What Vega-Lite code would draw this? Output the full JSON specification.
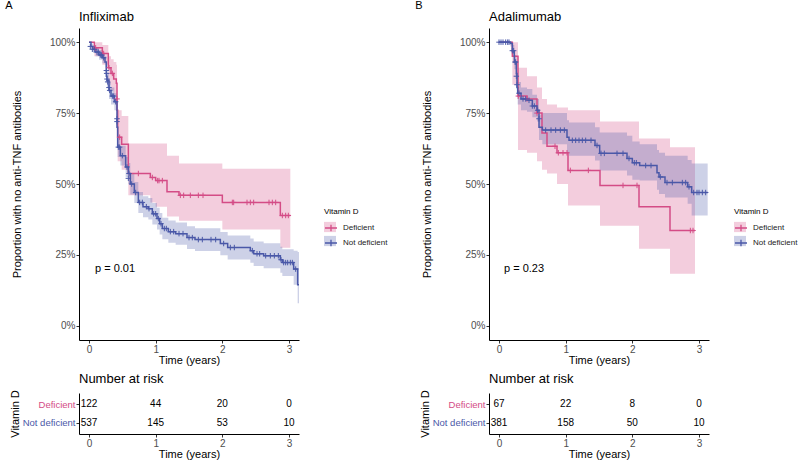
{
  "$schema": "https://vega.github.io/schema/vega-lite/v6.json",
  "padding": {"left": 5, "top": 0, "right": 1, "bottom": 1},
  "config": {
    "font": "Liberation Sans",
    "view": {"stroke": null},
    "axis": {"grid": false, "domainColor": "#000", "tickColor": "#333", "labelColor": "#4D4D4D", "labelFontSize": 10, "titleFontSize": 11, "titleFontWeight": "normal", "titleColor": "#000", "tickSize": 3, "labelPadding": 1, "titlePadding": 0},
    "legend": {"titleFontSize": 8, "labelFontSize": 8, "titleFontWeight": "normal", "titleColor": "#000", "labelColor": "#222", "rowPadding": 2, "titlePadding": 5, "labelOffset": 5},
    "title": {"fontWeight": "normal", "color": "#000"}
  },
  "datasets": {
    "kmA": [
      {"g": "Deficient", "t": 0, "s": 1, "lo": 1, "hi": 1},
      {"g": "Deficient", "t": 0.08, "s": 0.98, "lo": 0.95, "hi": 1},
      {"g": "Deficient", "t": 0.2, "s": 0.96, "lo": 0.92, "hi": 0.99},
      {"g": "Deficient", "t": 0.29, "s": 0.91, "lo": 0.85, "hi": 0.95},
      {"g": "Deficient", "t": 0.33, "s": 0.89, "lo": 0.83, "hi": 0.94},
      {"g": "Deficient", "t": 0.37, "s": 0.87, "lo": 0.81, "hi": 0.93},
      {"g": "Deficient", "t": 0.41, "s": 0.855, "lo": 0.79, "hi": 0.92},
      {"g": "Deficient", "t": 0.42, "s": 0.76, "lo": 0.68, "hi": 0.83},
      {"g": "Deficient", "t": 0.43, "s": 0.665, "lo": 0.58, "hi": 0.76},
      {"g": "Deficient", "t": 0.49, "s": 0.64, "lo": 0.55, "hi": 0.74},
      {"g": "Deficient", "t": 0.59, "s": 0.537, "lo": 0.46, "hi": 0.643},
      {"g": "Deficient", "t": 0.92, "s": 0.523, "lo": 0.435, "hi": 0.643},
      {"g": "Deficient", "t": 1.0, "s": 0.512, "lo": 0.42, "hi": 0.643},
      {"g": "Deficient", "t": 1.17, "s": 0.473, "lo": 0.385, "hi": 0.6},
      {"g": "Deficient", "t": 1.35, "s": 0.46, "lo": 0.37, "hi": 0.572},
      {"g": "Deficient", "t": 2.0, "s": 0.435, "lo": 0.34, "hi": 0.554},
      {"g": "Deficient", "t": 2.87, "s": 0.389, "lo": 0.275, "hi": 0.554},
      {"g": "Deficient", "t": 3.02, "s": 0.389, "lo": 0.275, "hi": 0.554},
      {"g": "Not deficient", "t": 0, "s": 1, "lo": 1, "hi": 1},
      {"g": "Not deficient", "t": 0.03, "s": 0.985, "lo": 0.975, "hi": 0.995},
      {"g": "Not deficient", "t": 0.06, "s": 0.975, "lo": 0.962, "hi": 0.988},
      {"g": "Not deficient", "t": 0.1, "s": 0.965, "lo": 0.95, "hi": 0.98},
      {"g": "Not deficient", "t": 0.15, "s": 0.955, "lo": 0.938, "hi": 0.972},
      {"g": "Not deficient", "t": 0.2, "s": 0.945, "lo": 0.926, "hi": 0.964},
      {"g": "Not deficient", "t": 0.24, "s": 0.93, "lo": 0.91, "hi": 0.95},
      {"g": "Not deficient", "t": 0.26, "s": 0.88, "lo": 0.855, "hi": 0.905},
      {"g": "Not deficient", "t": 0.27, "s": 0.866, "lo": 0.84, "hi": 0.892},
      {"g": "Not deficient", "t": 0.3, "s": 0.83, "lo": 0.8, "hi": 0.86},
      {"g": "Not deficient", "t": 0.33, "s": 0.81, "lo": 0.78, "hi": 0.84},
      {"g": "Not deficient", "t": 0.38, "s": 0.79, "lo": 0.76, "hi": 0.82},
      {"g": "Not deficient", "t": 0.42, "s": 0.7, "lo": 0.665, "hi": 0.735},
      {"g": "Not deficient", "t": 0.43, "s": 0.63, "lo": 0.595, "hi": 0.665},
      {"g": "Not deficient", "t": 0.47, "s": 0.6, "lo": 0.565, "hi": 0.635},
      {"g": "Not deficient", "t": 0.55, "s": 0.56, "lo": 0.525, "hi": 0.595},
      {"g": "Not deficient", "t": 0.59, "s": 0.537, "lo": 0.5, "hi": 0.574},
      {"g": "Not deficient", "t": 0.62, "s": 0.5, "lo": 0.463, "hi": 0.537},
      {"g": "Not deficient", "t": 0.68, "s": 0.47, "lo": 0.433, "hi": 0.507},
      {"g": "Not deficient", "t": 0.74, "s": 0.435, "lo": 0.398, "hi": 0.472},
      {"g": "Not deficient", "t": 0.81, "s": 0.42, "lo": 0.383, "hi": 0.457},
      {"g": "Not deficient", "t": 0.89, "s": 0.413, "lo": 0.375, "hi": 0.451},
      {"g": "Not deficient", "t": 0.95, "s": 0.395, "lo": 0.357, "hi": 0.433},
      {"g": "Not deficient", "t": 1.02, "s": 0.378, "lo": 0.34, "hi": 0.416},
      {"g": "Not deficient", "t": 1.06, "s": 0.36, "lo": 0.322, "hi": 0.398},
      {"g": "Not deficient", "t": 1.1, "s": 0.343, "lo": 0.305, "hi": 0.381},
      {"g": "Not deficient", "t": 1.19, "s": 0.332, "lo": 0.293, "hi": 0.371},
      {"g": "Not deficient", "t": 1.3, "s": 0.325, "lo": 0.286, "hi": 0.364},
      {"g": "Not deficient", "t": 1.47, "s": 0.311, "lo": 0.271, "hi": 0.351},
      {"g": "Not deficient", "t": 1.59, "s": 0.304, "lo": 0.264, "hi": 0.344},
      {"g": "Not deficient", "t": 1.97, "s": 0.29, "lo": 0.249, "hi": 0.331},
      {"g": "Not deficient", "t": 2.08, "s": 0.276, "lo": 0.234, "hi": 0.318},
      {"g": "Not deficient", "t": 2.42, "s": 0.265, "lo": 0.222, "hi": 0.308},
      {"g": "Not deficient", "t": 2.47, "s": 0.254, "lo": 0.211, "hi": 0.297},
      {"g": "Not deficient", "t": 2.62, "s": 0.247, "lo": 0.203, "hi": 0.291},
      {"g": "Not deficient", "t": 2.87, "s": 0.233, "lo": 0.187, "hi": 0.279},
      {"g": "Not deficient", "t": 2.9, "s": 0.223, "lo": 0.176, "hi": 0.27},
      {"g": "Not deficient", "t": 3.07, "s": 0.2, "lo": 0.145, "hi": 0.265},
      {"g": "Not deficient", "t": 3.13, "s": 0.145, "lo": 0.08, "hi": 0.26},
      {"g": "Not deficient", "t": 3.15, "s": 0.145, "lo": 0.08, "hi": 0.26}
    ],
    "cenA": [
      {"g": "Deficient", "t": 0.1, "s": 0.98}, {"g": "Deficient", "t": 0.22, "s": 0.96}, {"g": "Deficient", "t": 0.3, "s": 0.91},
      {"g": "Deficient", "t": 0.35, "s": 0.89}, {"g": "Deficient", "t": 0.42, "s": 0.8}, {"g": "Deficient", "t": 0.46, "s": 0.665},
      {"g": "Deficient", "t": 0.74, "s": 0.537}, {"g": "Deficient", "t": 0.95, "s": 0.523}, {"g": "Deficient", "t": 1.03, "s": 0.512},
      {"g": "Deficient", "t": 1.05, "s": 0.512}, {"g": "Deficient", "t": 1.1, "s": 0.512}, {"g": "Deficient", "t": 1.37, "s": 0.46},
      {"g": "Deficient", "t": 1.42, "s": 0.46}, {"g": "Deficient", "t": 1.52, "s": 0.46}, {"g": "Deficient", "t": 1.64, "s": 0.46},
      {"g": "Deficient", "t": 1.71, "s": 0.46}, {"g": "Deficient", "t": 2.15, "s": 0.435}, {"g": "Deficient", "t": 2.17, "s": 0.435},
      {"g": "Deficient", "t": 2.37, "s": 0.435}, {"g": "Deficient", "t": 2.42, "s": 0.435}, {"g": "Deficient", "t": 2.47, "s": 0.435},
      {"g": "Deficient", "t": 2.7, "s": 0.435}, {"g": "Deficient", "t": 2.75, "s": 0.435}, {"g": "Deficient", "t": 2.8, "s": 0.435},
      {"g": "Deficient", "t": 2.9, "s": 0.389}, {"g": "Deficient", "t": 2.95, "s": 0.389}, {"g": "Deficient", "t": 2.99, "s": 0.389},
      {"g": "Not deficient", "t": 0.02, "s": 0.985}, {"g": "Not deficient", "t": 0.05, "s": 0.975}, {"g": "Not deficient", "t": 0.08, "s": 0.975},
      {"g": "Not deficient", "t": 0.12, "s": 0.965}, {"g": "Not deficient", "t": 0.14, "s": 0.965}, {"g": "Not deficient", "t": 0.17, "s": 0.955},
      {"g": "Not deficient", "t": 0.19, "s": 0.955}, {"g": "Not deficient", "t": 0.22, "s": 0.945}, {"g": "Not deficient", "t": 0.26, "s": 0.9},
      {"g": "Not deficient", "t": 0.265, "s": 0.89}, {"g": "Not deficient", "t": 0.27, "s": 0.87}, {"g": "Not deficient", "t": 0.28, "s": 0.86},
      {"g": "Not deficient", "t": 0.3, "s": 0.84}, {"g": "Not deficient", "t": 0.31, "s": 0.83}, {"g": "Not deficient", "t": 0.35, "s": 0.81},
      {"g": "Not deficient", "t": 0.37, "s": 0.81}, {"g": "Not deficient", "t": 0.4, "s": 0.79}, {"g": "Not deficient", "t": 0.42, "s": 0.73},
      {"g": "Not deficient", "t": 0.42, "s": 0.72}, {"g": "Not deficient", "t": 0.44, "s": 0.63}, {"g": "Not deficient", "t": 0.46, "s": 0.63},
      {"g": "Not deficient", "t": 0.5, "s": 0.6}, {"g": "Not deficient", "t": 0.57, "s": 0.56}, {"g": "Not deficient", "t": 0.59, "s": 0.52},
      {"g": "Not deficient", "t": 0.6, "s": 0.537}, {"g": "Not deficient", "t": 0.64, "s": 0.5}, {"g": "Not deficient", "t": 0.7, "s": 0.47},
      {"g": "Not deficient", "t": 0.76, "s": 0.435}, {"g": "Not deficient", "t": 0.8, "s": 0.435}, {"g": "Not deficient", "t": 0.86, "s": 0.42},
      {"g": "Not deficient", "t": 0.9, "s": 0.413}, {"g": "Not deficient", "t": 0.97, "s": 0.395}, {"g": "Not deficient", "t": 1.0, "s": 0.395},
      {"g": "Not deficient", "t": 1.04, "s": 0.378}, {"g": "Not deficient", "t": 1.08, "s": 0.36}, {"g": "Not deficient", "t": 1.13, "s": 0.343},
      {"g": "Not deficient", "t": 1.16, "s": 0.343}, {"g": "Not deficient", "t": 1.22, "s": 0.332}, {"g": "Not deficient", "t": 1.27, "s": 0.332},
      {"g": "Not deficient", "t": 1.35, "s": 0.325}, {"g": "Not deficient", "t": 1.41, "s": 0.325}, {"g": "Not deficient", "t": 1.5, "s": 0.311},
      {"g": "Not deficient", "t": 1.55, "s": 0.311}, {"g": "Not deficient", "t": 1.64, "s": 0.304}, {"g": "Not deficient", "t": 1.7, "s": 0.304},
      {"g": "Not deficient", "t": 1.83, "s": 0.304}, {"g": "Not deficient", "t": 1.9, "s": 0.304}, {"g": "Not deficient", "t": 2.02, "s": 0.29},
      {"g": "Not deficient", "t": 2.12, "s": 0.276}, {"g": "Not deficient", "t": 2.18, "s": 0.276}, {"g": "Not deficient", "t": 2.45, "s": 0.265},
      {"g": "Not deficient", "t": 2.52, "s": 0.254}, {"g": "Not deficient", "t": 2.56, "s": 0.254}, {"g": "Not deficient", "t": 2.65, "s": 0.247},
      {"g": "Not deficient", "t": 2.72, "s": 0.247}, {"g": "Not deficient", "t": 2.78, "s": 0.247}, {"g": "Not deficient", "t": 2.84, "s": 0.247},
      {"g": "Not deficient", "t": 2.88, "s": 0.233}, {"g": "Not deficient", "t": 2.92, "s": 0.223}, {"g": "Not deficient", "t": 2.95, "s": 0.223},
      {"g": "Not deficient", "t": 2.98, "s": 0.223}, {"g": "Not deficient", "t": 3.02, "s": 0.223}, {"g": "Not deficient", "t": 3.05, "s": 0.223},
      {"g": "Not deficient", "t": 3.1, "s": 0.2}
    ],
    "kmB": [
      {"g": "Deficient", "t": 0, "s": 1, "lo": 1, "hi": 1},
      {"g": "Deficient", "t": 0.2, "s": 0.95, "lo": 0.85, "hi": 1},
      {"g": "Deficient", "t": 0.285, "s": 0.81, "lo": 0.62, "hi": 0.91},
      {"g": "Deficient", "t": 0.42, "s": 0.8, "lo": 0.61, "hi": 0.88},
      {"g": "Deficient", "t": 0.57, "s": 0.75, "lo": 0.58, "hi": 0.84},
      {"g": "Deficient", "t": 0.645, "s": 0.68, "lo": 0.55, "hi": 0.8},
      {"g": "Deficient", "t": 0.72, "s": 0.633, "lo": 0.537, "hi": 0.78},
      {"g": "Deficient", "t": 0.87, "s": 0.61, "lo": 0.5, "hi": 0.77},
      {"g": "Deficient", "t": 1.035, "s": 0.548, "lo": 0.424, "hi": 0.76},
      {"g": "Deficient", "t": 1.515, "s": 0.495, "lo": 0.353, "hi": 0.72},
      {"g": "Deficient", "t": 2.1, "s": 0.42, "lo": 0.272, "hi": 0.66},
      {"g": "Deficient", "t": 2.565, "s": 0.336, "lo": 0.184, "hi": 0.63},
      {"g": "Deficient", "t": 2.94, "s": 0.336, "lo": 0.184, "hi": 0.63},
      {"g": "Not deficient", "t": 0, "s": 1, "lo": 1, "hi": 1},
      {"g": "Not deficient", "t": 0.17, "s": 0.995, "lo": 0.985, "hi": 1},
      {"g": "Not deficient", "t": 0.2, "s": 0.97, "lo": 0.95, "hi": 0.99},
      {"g": "Not deficient", "t": 0.23, "s": 0.93, "lo": 0.905, "hi": 0.955},
      {"g": "Not deficient", "t": 0.26, "s": 0.89, "lo": 0.86, "hi": 0.92},
      {"g": "Not deficient", "t": 0.27, "s": 0.84, "lo": 0.8, "hi": 0.88},
      {"g": "Not deficient", "t": 0.28, "s": 0.82, "lo": 0.78, "hi": 0.86},
      {"g": "Not deficient", "t": 0.33, "s": 0.8, "lo": 0.76, "hi": 0.84},
      {"g": "Not deficient", "t": 0.42, "s": 0.795, "lo": 0.755, "hi": 0.835},
      {"g": "Not deficient", "t": 0.5, "s": 0.775, "lo": 0.735, "hi": 0.815},
      {"g": "Not deficient", "t": 0.57, "s": 0.76, "lo": 0.72, "hi": 0.8},
      {"g": "Not deficient", "t": 0.6, "s": 0.7, "lo": 0.655, "hi": 0.745},
      {"g": "Not deficient", "t": 0.65, "s": 0.69, "lo": 0.64, "hi": 0.75},
      {"g": "Not deficient", "t": 1.02, "s": 0.665, "lo": 0.61, "hi": 0.725},
      {"g": "Not deficient", "t": 1.05, "s": 0.654, "lo": 0.6, "hi": 0.717},
      {"g": "Not deficient", "t": 1.44, "s": 0.636, "lo": 0.583, "hi": 0.7},
      {"g": "Not deficient", "t": 1.51, "s": 0.608, "lo": 0.548, "hi": 0.682},
      {"g": "Not deficient", "t": 1.92, "s": 0.59, "lo": 0.53, "hi": 0.67},
      {"g": "Not deficient", "t": 2.0, "s": 0.575, "lo": 0.515, "hi": 0.65},
      {"g": "Not deficient", "t": 2.11, "s": 0.565, "lo": 0.512, "hi": 0.64},
      {"g": "Not deficient", "t": 2.37, "s": 0.54, "lo": 0.48, "hi": 0.62},
      {"g": "Not deficient", "t": 2.4, "s": 0.525, "lo": 0.465, "hi": 0.61},
      {"g": "Not deficient", "t": 2.49, "s": 0.505, "lo": 0.452, "hi": 0.6},
      {"g": "Not deficient", "t": 2.83, "s": 0.49, "lo": 0.43, "hi": 0.585},
      {"g": "Not deficient", "t": 2.89, "s": 0.47, "lo": 0.389, "hi": 0.572},
      {"g": "Not deficient", "t": 3.13, "s": 0.47, "lo": 0.389, "hi": 0.572}
    ],
    "cenB": [
      {"g": "Deficient", "t": 0.29, "s": 0.81}, {"g": "Deficient", "t": 0.42, "s": 0.8}, {"g": "Deficient", "t": 0.57, "s": 0.75},
      {"g": "Deficient", "t": 0.84, "s": 0.633}, {"g": "Deficient", "t": 0.89, "s": 0.61}, {"g": "Deficient", "t": 0.96, "s": 0.61},
      {"g": "Deficient", "t": 1.02, "s": 0.61}, {"g": "Deficient", "t": 1.07, "s": 0.548}, {"g": "Deficient", "t": 1.34, "s": 0.548},
      {"g": "Deficient", "t": 1.86, "s": 0.495}, {"g": "Deficient", "t": 2.07, "s": 0.495}, {"g": "Deficient", "t": 2.87, "s": 0.336},
      {"g": "Deficient", "t": 2.91, "s": 0.336},
      {"g": "Not deficient", "t": 0.0, "s": 1}, {"g": "Not deficient", "t": 0.03, "s": 1}, {"g": "Not deficient", "t": 0.06, "s": 1},
      {"g": "Not deficient", "t": 0.1, "s": 1}, {"g": "Not deficient", "t": 0.13, "s": 1}, {"g": "Not deficient", "t": 0.15, "s": 1},
      {"g": "Not deficient", "t": 0.2, "s": 0.97}, {"g": "Not deficient", "t": 0.22, "s": 0.97}, {"g": "Not deficient", "t": 0.24, "s": 0.93},
      {"g": "Not deficient", "t": 0.25, "s": 0.93}, {"g": "Not deficient", "t": 0.26, "s": 0.88}, {"g": "Not deficient", "t": 0.27, "s": 0.85},
      {"g": "Not deficient", "t": 0.3, "s": 0.82}, {"g": "Not deficient", "t": 0.36, "s": 0.8}, {"g": "Not deficient", "t": 0.4, "s": 0.8},
      {"g": "Not deficient", "t": 0.45, "s": 0.795}, {"g": "Not deficient", "t": 0.5, "s": 0.775}, {"g": "Not deficient", "t": 0.53, "s": 0.775},
      {"g": "Not deficient", "t": 0.58, "s": 0.76}, {"g": "Not deficient", "t": 0.6, "s": 0.73}, {"g": "Not deficient", "t": 0.7, "s": 0.69},
      {"g": "Not deficient", "t": 0.78, "s": 0.69}, {"g": "Not deficient", "t": 0.85, "s": 0.69}, {"g": "Not deficient", "t": 0.92, "s": 0.69},
      {"g": "Not deficient", "t": 0.98, "s": 0.69}, {"g": "Not deficient", "t": 1.1, "s": 0.654}, {"g": "Not deficient", "t": 1.15, "s": 0.654},
      {"g": "Not deficient", "t": 1.2, "s": 0.654}, {"g": "Not deficient", "t": 1.25, "s": 0.654}, {"g": "Not deficient", "t": 1.3, "s": 0.654},
      {"g": "Not deficient", "t": 1.38, "s": 0.654}, {"g": "Not deficient", "t": 1.47, "s": 0.636}, {"g": "Not deficient", "t": 1.53, "s": 0.608},
      {"g": "Not deficient", "t": 1.58, "s": 0.608}, {"g": "Not deficient", "t": 1.77, "s": 0.608}, {"g": "Not deficient", "t": 1.86, "s": 0.608},
      {"g": "Not deficient", "t": 1.95, "s": 0.59}, {"g": "Not deficient", "t": 2.03, "s": 0.575}, {"g": "Not deficient", "t": 2.06, "s": 0.575},
      {"g": "Not deficient", "t": 2.2, "s": 0.565}, {"g": "Not deficient", "t": 2.28, "s": 0.565}, {"g": "Not deficient", "t": 2.42, "s": 0.525},
      {"g": "Not deficient", "t": 2.52, "s": 0.505}, {"g": "Not deficient", "t": 2.6, "s": 0.505}, {"g": "Not deficient", "t": 2.75, "s": 0.505},
      {"g": "Not deficient", "t": 2.8, "s": 0.505}, {"g": "Not deficient", "t": 2.85, "s": 0.49}, {"g": "Not deficient", "t": 2.92, "s": 0.47},
      {"g": "Not deficient", "t": 2.97, "s": 0.47}, {"g": "Not deficient", "t": 3.0, "s": 0.47}, {"g": "Not deficient", "t": 3.05, "s": 0.47},
      {"g": "Not deficient", "t": 3.1, "s": 0.47}
    ],
    "riskA": [
      {"g": "Deficient", "t": 0, "n": 122}, {"g": "Deficient", "t": 1, "n": 44}, {"g": "Deficient", "t": 2, "n": 20}, {"g": "Deficient", "t": 3, "n": 0},
      {"g": "Not deficient", "t": 0, "n": 537}, {"g": "Not deficient", "t": 1, "n": 145}, {"g": "Not deficient", "t": 2, "n": 53}, {"g": "Not deficient", "t": 3, "n": 10}
    ],
    "riskB": [
      {"g": "Deficient", "t": 0, "n": 67}, {"g": "Deficient", "t": 1, "n": 22}, {"g": "Deficient", "t": 2, "n": 8}, {"g": "Deficient", "t": 3, "n": 0},
      {"g": "Not deficient", "t": 0, "n": 381}, {"g": "Not deficient", "t": 1, "n": 158}, {"g": "Not deficient", "t": 2, "n": 50}, {"g": "Not deficient", "t": 3, "n": 10}
    ],
    "pA": [{"t": 0.09, "s": 0.2, "label": "p = 0.01"}],
    "pB": [{"t": 0.075, "s": 0.2, "label": "p = 0.23"}]
  },
  "bounds": "flush",
  "spacing": 410,
  "resolve": {"scale": {"fill": "independent", "stroke": "independent"}, "legend": {"fill": "independent", "stroke": "independent"}},
  "hconcat": [
    {
      "title": {"text": "A", "anchor": "start", "frame": "bounds", "fontSize": 11, "offset": 0, "dx": -4},
      "bounds": "flush",
      "spacing": 53,
      "resolve": {"scale": {"fill": "independent", "stroke": "independent"}, "legend": {"fill": "independent", "stroke": "independent"}},
      "vconcat": [
        {
          "width": 220, "height": 312,
          "title": {"text": "Infliximab", "anchor": "start", "frame": "group", "fontSize": 13, "offset": 4},
          "layer": [
            {
              "data": {"name": "kmA"},
              "transform": [{"filter": "datum.lo != null"}],
              "mark": {"type": "area", "interpolate": "step-after", "opacity": 0.28},
              "encoding": {
                "x": {"field": "t", "type": "quantitative", "scale": {"domain": [-0.15, 3.15], "nice": false, "zero": false}, "axis": {"values": [0, 1, 2, 3], "format": "d", "title": "Time (years)"}},
                "y": {"field": "lo", "type": "quantitative", "scale": {"domain": [-0.05, 1.05], "nice": false, "zero": false}, "axis": {"values": [0, 0.25, 0.5, 0.75, 1], "format": ".0%", "title": "Proportion with no anti-TNF antibodies", "titlePadding": 27}},
                "y2": {"field": "hi"},
                "fill": {"field": "g", "type": "nominal", "scale": {"range": ["#D44C86", "#4A58A8"]}, "legend": {"orient": "none", "legendX": 245, "legendY": 180, "title": " ", "labelExpr": "''", "symbolType": "M-1,-0.85H1V0.85H-1Z", "symbolSize": 144, "symbolStrokeWidth": 0, "symbolOpacity": 0.28}}
              }
            },
            {
              "data": {"name": "kmA"},
              "mark": {"type": "line", "interpolate": "step-after", "strokeWidth": 1.5},
              "encoding": {
                "x": {"field": "t", "type": "quantitative"},
                "y": {"field": "s", "type": "quantitative"},
                "stroke": {"field": "g", "type": "nominal", "scale": {"range": ["#D44C86", "#4A58A8"]}, "legend": {"orient": "none", "legendX": 245, "legendY": 180, "title": "Vitamin D", "symbolType": "M-1,0H1M0,-0.55V0.55", "symbolSize": 144, "symbolStrokeWidth": 1.3}}
              }
            },
            {
              "data": {"name": "cenA"},
              "mark": {"type": "point", "shape": "M-1,0H1M0,-1V1", "size": 30, "strokeWidth": 1, "filled": false, "opacity": 1},
              "encoding": {
                "x": {"field": "t", "type": "quantitative"},
                "y": {"field": "s", "type": "quantitative"},
                "stroke": {"field": "g", "type": "nominal"}
              }
            },
            {
              "data": {"name": "pA"},
              "mark": {"type": "text", "align": "left", "baseline": "middle", "fontSize": 11, "color": "#000"},
              "encoding": {
                "x": {"field": "t", "type": "quantitative"},
                "y": {"field": "s", "type": "quantitative"},
                "text": {"field": "label"}
              }
            }
          ]
        },
        {
          "width": 220, "height": 41,
          "data": {"name": "riskA"},
          "title": {"text": "Number at risk", "anchor": "start", "frame": "group", "fontSize": 13, "offset": 4},
          "mark": {"type": "text", "fontSize": 10, "color": "#000"},
          "encoding": {
            "x": {"field": "t", "type": "quantitative", "scale": {"domain": [-0.15, 3.15], "nice": false, "zero": false}, "axis": {"values": [0, 1, 2, 3], "format": "d", "title": "Time (years)"}},
            "y": {"field": "g", "type": "nominal", "scale": {"type": "point", "padding": 0.58, "domain": ["Deficient", "Not deficient"]}, "axis": {"title": "Vitamin D", "titlePadding": 2, "labelFontSize": 9.5, "labelColor": {"condition": {"test": "datum.value === 'Deficient'", "value": "#D44C86"}, "value": "#4A58A8"}}},
            "text": {"field": "n", "type": "quantitative"}
          }
        }
      ]
    },
    {
      "title": {"text": "B", "anchor": "start", "frame": "bounds", "fontSize": 11, "offset": 0, "dx": -4},
      "bounds": "flush",
      "spacing": 53,
      "resolve": {"scale": {"fill": "independent", "stroke": "independent"}, "legend": {"fill": "independent", "stroke": "independent"}},
      "vconcat": [
        {
          "width": 220, "height": 312,
          "title": {"text": "Adalimumab", "anchor": "start", "frame": "group", "fontSize": 13, "offset": 4},
          "layer": [
            {
              "data": {"name": "kmB"},
              "transform": [{"filter": "datum.lo != null"}],
              "mark": {"type": "area", "interpolate": "step-after", "opacity": 0.28},
              "encoding": {
                "x": {"field": "t", "type": "quantitative", "scale": {"domain": [-0.15, 3.15], "nice": false, "zero": false}, "axis": {"values": [0, 1, 2, 3], "format": "d", "title": "Time (years)"}},
                "y": {"field": "lo", "type": "quantitative", "scale": {"domain": [-0.05, 1.05], "nice": false, "zero": false}, "axis": {"values": [0, 0.25, 0.5, 0.75, 1], "format": ".0%", "title": "Proportion with no anti-TNF antibodies", "titlePadding": 27}},
                "y2": {"field": "hi"},
                "fill": {"field": "g", "type": "nominal", "scale": {"range": ["#D44C86", "#4A58A8"]}, "legend": {"orient": "none", "legendX": 245, "legendY": 180, "title": " ", "labelExpr": "''", "symbolType": "M-1,-0.85H1V0.85H-1Z", "symbolSize": 144, "symbolStrokeWidth": 0, "symbolOpacity": 0.28}}
              }
            },
            {
              "data": {"name": "kmB"},
              "mark": {"type": "line", "interpolate": "step-after", "strokeWidth": 1.5},
              "encoding": {
                "x": {"field": "t", "type": "quantitative"},
                "y": {"field": "s", "type": "quantitative"},
                "stroke": {"field": "g", "type": "nominal", "scale": {"range": ["#D44C86", "#4A58A8"]}, "legend": {"orient": "none", "legendX": 245, "legendY": 180, "title": "Vitamin D", "symbolType": "M-1,0H1M0,-0.55V0.55", "symbolSize": 144, "symbolStrokeWidth": 1.3}}
              }
            },
            {
              "data": {"name": "cenB"},
              "mark": {"type": "point", "shape": "M-1,0H1M0,-1V1", "size": 30, "strokeWidth": 1, "filled": false, "opacity": 1},
              "encoding": {
                "x": {"field": "t", "type": "quantitative"},
                "y": {"field": "s", "type": "quantitative"},
                "stroke": {"field": "g", "type": "nominal"}
              }
            },
            {
              "data": {"name": "pB"},
              "mark": {"type": "text", "align": "left", "baseline": "middle", "fontSize": 11, "color": "#000"},
              "encoding": {
                "x": {"field": "t", "type": "quantitative"},
                "y": {"field": "s", "type": "quantitative"},
                "text": {"field": "label"}
              }
            }
          ]
        },
        {
          "width": 220, "height": 41,
          "data": {"name": "riskB"},
          "title": {"text": "Number at risk", "anchor": "start", "frame": "group", "fontSize": 13, "offset": 4},
          "mark": {"type": "text", "fontSize": 10, "color": "#000"},
          "encoding": {
            "x": {"field": "t", "type": "quantitative", "scale": {"domain": [-0.15, 3.15], "nice": false, "zero": false}, "axis": {"values": [0, 1, 2, 3], "format": "d", "title": "Time (years)"}},
            "y": {"field": "g", "type": "nominal", "scale": {"type": "point", "padding": 0.58, "domain": ["Deficient", "Not deficient"]}, "axis": {"title": "Vitamin D", "titlePadding": 2, "labelFontSize": 9.5, "labelColor": {"condition": {"test": "datum.value === 'Deficient'", "value": "#D44C86"}, "value": "#4A58A8"}}},
            "text": {"field": "n", "type": "quantitative"}
          }
        }
      ]
    }
  ]
}
